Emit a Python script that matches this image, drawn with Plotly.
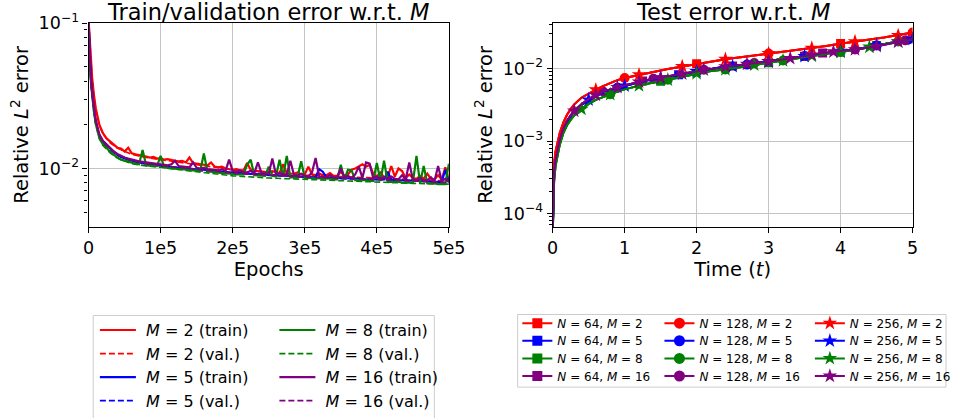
import plotly.graph_objects as go

W, H = 956, 418
FONT = "DejaVu Sans"

# ------------------------------------------------------------------ left panel data
EPOCHS = [0, 1000, 2000, 3500, 5000, 7500, 10000, 15000, 20000] + list(range(25000, 500001, 5000))

TRAIN_M2 = [0.105, 0.085, 0.068, 0.052, 0.042, 0.032, 0.0260, 0.0200, 0.0175,
            0.0161, 0.0153, 0.0146, 0.0139, 0.0137, 0.0131, 0.0139, 0.0127, 0.0125, 0.0123,
            0.0122, 0.0121, 0.0119, 0.0120, 0.0117, 0.0118, 0.0115, 0.0116, 0.0114, 0.0113,
            0.0112, 0.0113, 0.0110, 0.0119, 0.0109, 0.0108, 0.0107, 0.0106, 0.0105, 0.0110,
            0.0103, 0.0102, 0.0103, 0.0100, 0.0099, 0.0098, 0.0099, 0.0097, 0.0097, 0.0109,
            0.0098, 0.0096, 0.0096, 0.0095, 0.0095, 0.0094, 0.0096, 0.0094, 0.0093, 0.0107,
            0.0093, 0.0092, 0.0092, 0.0094, 0.0091, 0.0091, 0.0103, 0.0091, 0.0090, 0.0092,
            0.0090, 0.0090, 0.0093, 0.0089, 0.0089, 0.0095, 0.0089, 0.0091, 0.0098, 0.0100,
            0.0104, 0.0107, 0.0103, 0.0106, 0.0092, 0.0088, 0.0094, 0.0087, 0.0087, 0.0104,
            0.0088, 0.0100, 0.0096, 0.0086, 0.0091, 0.0086, 0.0085, 0.0089, 0.0085, 0.0092,
            0.0085, 0.0084, 0.0090, 0.0084, 0.0102, 0.0084]
TRAIN_M5 = [0.105, 0.070, 0.053, 0.040, 0.032, 0.0253, 0.0210, 0.0168, 0.0152,
            0.0144, 0.0136, 0.0129, 0.0124, 0.0120, 0.0117, 0.0115, 0.0113, 0.0111, 0.0110,
            0.0109, 0.0108, 0.0107, 0.0106, 0.0105, 0.0104, 0.0104, 0.0103, 0.0102, 0.0102,
            0.0101, 0.0101, 0.0100, 0.0100, 0.0099, 0.0099, 0.0098, 0.0098, 0.0097, 0.0097,
            0.0096, 0.0096, 0.0095, 0.0095, 0.0094, 0.0094, 0.0094, 0.0093, 0.0093, 0.0092,
            0.0092, 0.0092, 0.0091, 0.0091, 0.0091, 0.0090, 0.0090, 0.0090, 0.0089, 0.0089,
            0.0089, 0.0089, 0.0088, 0.0088, 0.0088, 0.0088, 0.0087, 0.0087, 0.0087, 0.0099,
            0.0095, 0.0087, 0.0086, 0.0086, 0.0086, 0.0086, 0.0086, 0.0085, 0.0085, 0.0085,
            0.0085, 0.0085, 0.0084, 0.0084, 0.0084, 0.0084, 0.0084, 0.0084, 0.0095, 0.0084,
            0.0083, 0.0083, 0.0083, 0.0083, 0.0083, 0.0082, 0.0082, 0.0082, 0.0082, 0.0082,
            0.0081, 0.0081, 0.0081, 0.0081, 0.0098, 0.0080]
TRAIN_M8 = [0.105, 0.068, 0.051, 0.038, 0.031, 0.0245, 0.0203, 0.0162, 0.0146,
            0.0139, 0.0130, 0.0124, 0.0119, 0.0115, 0.0113, 0.0111, 0.0109, 0.0108, 0.0107,
            0.0134, 0.0105, 0.0105, 0.0104, 0.0104, 0.0122, 0.0102, 0.0101, 0.0100, 0.0100,
            0.0099, 0.0099, 0.0098, 0.0098, 0.0097, 0.0097, 0.0096, 0.0127, 0.0095, 0.0095,
            0.0094, 0.0094, 0.0093, 0.0093, 0.0092, 0.0092, 0.0091, 0.0091, 0.0091, 0.0106,
            0.0115, 0.0090, 0.0090, 0.0089, 0.0089, 0.0103, 0.0089, 0.0088, 0.0115, 0.0088,
            0.0122, 0.0087, 0.0087, 0.0087, 0.0112, 0.0086, 0.0086, 0.0086, 0.0086, 0.0085,
            0.0085, 0.0085, 0.0085, 0.0084, 0.0084, 0.0106, 0.0084, 0.0098, 0.0097, 0.0083,
            0.0083, 0.0083, 0.0083, 0.0082, 0.0082, 0.0109, 0.0082, 0.0113, 0.0081, 0.0081,
            0.0081, 0.0081, 0.0080, 0.0080, 0.0080, 0.0080, 0.0122, 0.0079, 0.0104, 0.0079,
            0.0079, 0.0079, 0.0078, 0.0078, 0.0078, 0.0108]
TRAIN_M16 = [0.105, 0.072, 0.055, 0.041, 0.033, 0.026, 0.0215, 0.0172, 0.0155,
             0.0147, 0.0138, 0.0131, 0.0126, 0.0122, 0.0119, 0.0117, 0.0115, 0.0113, 0.0112,
             0.0111, 0.0110, 0.0109, 0.0108, 0.0107, 0.0106, 0.0106, 0.0105, 0.0107, 0.0113,
             0.0104, 0.0103, 0.0103, 0.0102, 0.0110, 0.0101, 0.0100, 0.0101, 0.0099, 0.0099,
             0.0098, 0.0097, 0.0099, 0.0096, 0.0115, 0.0096, 0.0095, 0.0097, 0.0094, 0.0094,
             0.0096, 0.0093, 0.0110, 0.0093, 0.0092, 0.0092, 0.0117, 0.0091, 0.0093, 0.0091,
             0.0090, 0.0113, 0.0090, 0.0089, 0.0092, 0.0089, 0.0088, 0.0094, 0.0118, 0.0088,
             0.0088, 0.0087, 0.0090, 0.0087, 0.0087, 0.0100, 0.0087, 0.0089, 0.0086, 0.0091,
             0.0103, 0.0086, 0.0110, 0.0108, 0.0086, 0.0088, 0.0085, 0.0087, 0.0085, 0.0088,
             0.0085, 0.0084, 0.0090, 0.0084, 0.0110, 0.0084, 0.0083, 0.0086, 0.0083, 0.0083,
             0.0087, 0.0082, 0.0104, 0.0082, 0.0085, 0.0081]

VAL_EPOCHS = [0, 1000, 2000, 3500, 5000, 7500, 10000, 15000, 20000, 30000, 40000, 60000,
              80000, 100000, 150000, 200000, 250000, 300000, 350000, 400000, 450000, 500000]
VAL_M2 = [0.105, 0.084, 0.067, 0.051, 0.041, 0.031, 0.0256, 0.0197, 0.0172, 0.0150, 0.0138,
          0.0125, 0.0119, 0.0115, 0.0106, 0.0098, 0.0094, 0.0090, 0.0088, 0.0086, 0.0084, 0.0082]
VAL_M5 = [0.105, 0.069, 0.052, 0.039, 0.031, 0.0249, 0.0207, 0.0166, 0.0150, 0.0134, 0.0123,
          0.0113, 0.0107, 0.0103, 0.0097, 0.0093, 0.0090, 0.0088, 0.0085, 0.0084, 0.0082, 0.0080]
VAL_M8 = [0.105, 0.067, 0.050, 0.037, 0.030, 0.0241, 0.0200, 0.0160, 0.0144, 0.0128, 0.0118,
          0.0108, 0.0104, 0.0102, 0.0095, 0.0089, 0.0086, 0.0084, 0.0082, 0.0080, 0.0079, 0.0078]
VAL_M16 = [0.105, 0.071, 0.054, 0.040, 0.032, 0.0256, 0.0212, 0.0169, 0.0152, 0.0137, 0.0124,
           0.0114, 0.0108, 0.0105, 0.0099, 0.0093, 0.0090, 0.0087, 0.0086, 0.0084, 0.0082, 0.0080]

# ------------------------------------------------------------------ right panel data
TIME = [0, 0.01, 0.02, 0.04, 0.07, 0.1, 0.15, 0.2, 0.25, 0.3, 0.4, 0.5, 0.6, 0.7, 0.8, 0.9,
        1.0, 1.1, 1.2, 1.25, 1.3, 1.4, 1.5, 1.6, 1.7, 1.75, 1.8, 1.9, 2.0, 2.1, 2.2, 2.3, 2.4,
        2.5, 2.6, 2.7, 2.8, 2.9, 3.0, 3.1, 3.2, 3.3, 3.4, 3.5, 3.6, 3.7, 3.75, 3.8, 3.9, 4.0,
        4.1, 4.2, 4.3, 4.4, 4.5, 4.6, 4.7, 4.8, 4.9, 5.0]
TEST_M2 = [6e-5, 3.2e-4, 4.8e-4, 7.2e-4, 1.0e-3, 1.3e-3, 1.8e-3, 2.3e-3, 2.75e-3,
           3.2e-3, 3.95e-3, 4.55e-3, 5.1e-3, 5.7e-3, 6.3e-3, 6.9e-3, 7.4e-3, 7.8e-3, 8.2e-3,
           8.4e-3, 8.6e-3, 9.0e-3, 9.4e-3, 9.8e-3, 1.02e-2, 1.04e-2, 1.07e-2, 1.11e-2, 1.16e-2,
           1.20e-2, 1.24e-2, 1.29e-2, 1.34e-2, 1.38e-2, 1.42e-2, 1.47e-2, 1.51e-2, 1.56e-2,
           1.61e-2, 1.66e-2, 1.71e-2, 1.76e-2, 1.81e-2, 1.86e-2, 1.91e-2, 1.97e-2, 2.00e-2,
           2.04e-2, 2.12e-2, 2.20e-2, 2.28e-2, 2.35e-2, 2.43e-2, 2.51e-2, 2.59e-2, 2.67e-2,
           2.76e-2, 2.86e-2, 2.98e-2, 3.12e-2]
TEST_M5 = [5e-5, 1.9e-4, 3.3e-4, 5.3e-4, 7.8e-4, 1.02e-3, 1.46e-3, 1.85e-3, 2.2e-3,
           2.55e-3, 3.15e-3, 3.7e-3, 4.2e-3, 4.65e-3, 5.05e-3, 5.4e-3, 5.75e-3, 6.1e-3, 6.45e-3,
           6.6e-3, 6.8e-3, 7.1e-3, 7.4e-3, 7.75e-3, 8.05e-3, 8.2e-3, 8.4e-3, 8.75e-3, 9.1e-3,
           9.5e-3, 9.85e-3, 1.02e-2, 1.05e-2, 1.07e-2, 1.10e-2, 1.13e-2, 1.17e-2, 1.21e-2,
           1.24e-2, 1.28e-2, 1.32e-2, 1.37e-2, 1.42e-2, 1.47e-2, 1.53e-2, 1.59e-2, 1.62e-2,
           1.65e-2, 1.69e-2, 1.73e-2, 1.78e-2, 1.83e-2, 1.90e-2, 1.98e-2, 2.08e-2, 2.16e-2,
           2.25e-2, 2.34e-2, 2.43e-2, 2.52e-2]
TEST_M8 = [4.5e-5, 1.5e-4, 2.7e-4, 4.5e-4, 6.8e-4, 9.0e-4, 1.3e-3, 1.65e-3, 1.95e-3,
           2.25e-3, 2.75e-3, 3.25e-3, 3.7e-3, 4.05e-3, 4.4e-3, 4.8e-3, 5.15e-3, 5.5e-3, 5.8e-3,
           5.95e-3, 6.1e-3, 6.4e-3, 6.65e-3, 7.0e-3, 7.35e-3, 7.55e-3, 7.75e-3, 8.15e-3, 8.55e-3,
           8.9e-3, 9.2e-3, 9.45e-3, 9.7e-3, 1.0e-2, 1.04e-2, 1.08e-2, 1.12e-2, 1.16e-2,
           1.20e-2, 1.24e-2, 1.29e-2, 1.34e-2, 1.39e-2, 1.44e-2, 1.49e-2, 1.54e-2, 1.57e-2,
           1.60e-2, 1.64e-2, 1.68e-2, 1.74e-2, 1.81e-2, 1.89e-2, 1.98e-2, 2.08e-2, 2.17e-2,
           2.26e-2, 2.35e-2, 2.43e-2, 2.50e-2]
TEST_M16 = [5e-5, 2.0e-4, 3.4e-4, 5.5e-4, 8.0e-4, 1.05e-3, 1.5e-3, 1.9e-3, 2.25e-3,
            2.6e-3, 3.2e-3, 3.8e-3, 4.3e-3, 4.8e-3, 5.15e-3, 5.5e-3, 5.85e-3, 6.2e-3, 6.55e-3,
            6.7e-3, 6.9e-3, 7.2e-3, 7.5e-3, 7.8e-3, 8.1e-3, 8.25e-3, 8.45e-3, 8.8e-3, 9.2e-3,
            9.6e-3, 9.95e-3, 1.03e-2, 1.06e-2, 1.08e-2, 1.11e-2, 1.15e-2, 1.19e-2, 1.22e-2,
            1.25e-2, 1.29e-2, 1.33e-2, 1.38e-2, 1.43e-2, 1.48e-2, 1.54e-2, 1.60e-2, 1.63e-2,
            1.66e-2, 1.70e-2, 1.74e-2, 1.78e-2, 1.82e-2, 1.88e-2, 1.95e-2, 2.03e-2, 2.12e-2,
            2.22e-2, 2.33e-2, 2.44e-2, 2.54e-2]

# marker positions (times) for each (N, M) run
MARK_N64_M2 = [2.0, 4.0]
MARK_N64_M5 = [1.75, 3.5]
MARK_N64_M8 = [1.5, 3.0, 4.5]
MARK_N64_M16 = [1.25, 2.5, 3.75, 5.0]
MARK_N128_M2 = [1.0, 3.0, 5.0]
MARK_N128_M5 = [0.9, 2.7, 4.5]
MARK_N128_M8 = [0.8, 1.6, 2.4, 3.2, 4.0, 4.8]
MARK_N128_M16 = [0.7, 1.4, 2.1, 2.8, 3.5, 4.2, 4.9]
MARK_N256_M2 = [0.6, 1.2, 1.8, 2.4, 3.0, 3.6, 4.2, 4.8]
MARK_N256_M5 = [0.5, 1.0, 1.5, 2.0, 2.5, 3.0, 3.5, 4.0, 4.5, 5.0]
MARK_N256_M8 = [0.4, 0.8, 1.2, 1.6, 2.0, 2.4, 2.8, 3.2, 3.6, 4.0, 4.4, 4.8]
MARK_N256_M16 = [0.3, 0.6, 0.9, 1.2, 1.5, 1.8, 2.1, 2.4, 2.7, 3.0, 3.3, 3.6, 3.9, 4.2, 4.5, 4.8]

M_VALUES = [2, 5, 8, 16]
N_VALUES = [64, 128, 256]
COLORS = ["red", "blue", "green", "purple"]
SYMBOLS = ["square", "circle", "star"]
SIZES = [9, 10, 11]
LEG_SIZES = [10, 11, 11]

# ------------------------------------------------------------------ geometry (px)
def px_x(p):
    return p / W

def px_y(p):
    return 1 - p / H

L_DOM = [px_x(89.3), px_x(452.7)]
R_DOM = [px_x(557.3), px_x(920.3)]
Y_DOM = [px_y(227.7), px_y(23.3)]

# legend slot positions (px): left legend 2 cols x 4 rows, right legend 3 cols x 4 rows
L_COL_X = [95.7, 276.7]
L_ROW_Y = [331.7, 355.4, 379.0, 402.7]
R_COL_X = [521.7, 665.0, 816.7]
R_ROW_Y = [324.7, 342.4, 360.1, 377.8]

fig = go.Figure()
legends = {}

def legend_box(xp, yp, size, itemwidth):
    return dict(x=px_x(xp), y=px_y(yp), xanchor="left", yanchor="middle", orientation="v",
                bgcolor="rgba(0,0,0,0)", borderwidth=0, itemwidth=itemwidth,
                font=dict(family=FONT, size=size, color="black"), tracegroupgap=0)

NB = "\u00a0"
train = [TRAIN_M2, TRAIN_M5, TRAIN_M8, TRAIN_M16]
val = [VAL_M2, VAL_M5, VAL_M8, VAL_M16]
k = 0
for i, m in enumerate(M_VALUES):
    col = i // 2
    for r, (ys, xs, label, dash, lw) in enumerate([
            (train[i], EPOCHS, "train", "solid", 2.2),
            (val[i], VAL_EPOCHS, "val.", "6px,3px", 1.6)]):
        row = (i % 2) * 2 + r
        k += 1
        name = "legend" if k == 1 else f"legend{k}"
        legends[name] = legend_box(L_COL_X[col], L_ROW_Y[row], 16, 36)
        fig.add_trace(go.Scatter(x=xs, y=ys, mode="lines",
                                 line=dict(color=COLORS[i], width=lw, dash=dash),
                                 name=f"{NB}<i>M</i> = {m} ({label})", legend=name,
                                 xaxis="x", yaxis="y"))

tests = [TEST_M2, TEST_M5, TEST_M8, TEST_M16]
marks = [[MARK_N64_M2, MARK_N64_M5, MARK_N64_M8, MARK_N64_M16],
         [MARK_N128_M2, MARK_N128_M5, MARK_N128_M8, MARK_N128_M16],
         [MARK_N256_M2, MARK_N256_M5, MARK_N256_M8, MARK_N256_M16]]
time_key = [round(t, 2) for t in TIME]
for j, n in enumerate(N_VALUES):
    for i, m in enumerate(M_VALUES):
        vals = tests[i]
        fig.add_trace(go.Scatter(x=TIME, y=vals, mode="lines",
                                 line=dict(color=COLORS[i], width=2),
                                 showlegend=False, xaxis="x2", yaxis="y2"))
        mt = marks[j][i]
        mv = [vals[time_key.index(round(t, 2))] for t in mt]
        fig.add_trace(go.Scatter(x=mt, y=mv, mode="markers",
                                 marker=dict(color=COLORS[i], symbol=SYMBOLS[j], size=SIZES[j],
                                             line=dict(width=0)),
                                 showlegend=False, xaxis="x2", yaxis="y2"))
for j, n in enumerate(N_VALUES):
    for i, m in enumerate(M_VALUES):
        k += 1
        name = f"legend{k}"
        legends[name] = legend_box(R_COL_X[j], R_ROW_Y[i], 12, 30)
        fig.add_trace(go.Scatter(x=[None], y=[None], mode="lines+markers",
                                 line=dict(color=COLORS[i], width=2),
                                 marker=dict(color=COLORS[i], symbol=SYMBOLS[j], size=LEG_SIZES[j]),
                                 name=f"<i>N</i> = {n}, <i>M</i> = {m}",
                                 legend=name, xaxis="x2", yaxis="y2"))

axis_common = dict(showline=True, mirror=True, linecolor="black", linewidth=1.2,
                   ticks="outside", ticklen=5, tickwidth=1.2, tickcolor="black",
                   showgrid=True, gridcolor="#c4c4c4", gridwidth=1, zeroline=False,
                   tickfont=dict(family=FONT, size=17.5, color="black"), automargin=False)

def sup(e):
    return f"10<sup>\u2212{e}</sup>"

L_MINOR = [0.005, 0.006, 0.007, 0.008, 0.009, 0.02, 0.03, 0.04, 0.05, 0.06, 0.07, 0.08, 0.09]
R_MINOR = [7e-5, 8e-5, 9e-5, 2e-4, 3e-4, 4e-4, 5e-4, 6e-4, 7e-4, 8e-4, 9e-4,
           2e-3, 3e-3, 4e-3, 5e-3, 6e-3, 7e-3, 8e-3, 9e-3, 2e-2, 3e-2, 4e-2]
minor = dict(ticks="outside", ticklen=3, tickwidth=1, tickcolor="black", showgrid=False)

title_font = dict(family=FONT, size=19.5, color="black")

fig.update_layout(
    width=W, height=H, margin=dict(l=0, r=0, t=0, b=0),
    paper_bgcolor="white", plot_bgcolor="white",
    font=dict(family=FONT, color="black"),
    xaxis=dict(domain=L_DOM, anchor="y", range=[0, 500000],
               tickmode="array", tickvals=[0, 100000, 200000, 300000, 400000, 500000],
               ticktext=["0", "1e5", "2e5", "3e5", "4e5", "5e5"],
               title=dict(text="Epochs", font=title_font, standoff=2), **axis_common),
    yaxis=dict(domain=Y_DOM, anchor="x", type="log", range=[-2.4, -1],
               tickmode="array", tickvals=[0.01, 0.1], ticktext=[sup(2), sup(1)],
               minor=dict(tickvals=L_MINOR, **minor),
               title=dict(text="Relative <i>L</i><sup>2</sup> error", font=title_font, standoff=4),
               **axis_common),
    xaxis2=dict(domain=R_DOM, anchor="y2", range=[0, 5],
                tickmode="array", tickvals=[0, 1, 2, 3, 4, 5],
                title=dict(text="Time (<i>t</i>)", font=title_font, standoff=2), **axis_common),
    yaxis2=dict(domain=Y_DOM, anchor="x2", type="log", range=[-4.18, -1.376],
                tickmode="array", tickvals=[1e-4, 1e-3, 1e-2], ticktext=[sup(4), sup(3), sup(2)],
                minor=dict(tickvals=R_MINOR, **minor),
                title=dict(text="Relative <i>L</i><sup>2</sup> error", font=title_font, standoff=4),
                **axis_common),
    annotations=[
        dict(text="Train/validation error w.r.t. <i>M</i>", x=(L_DOM[0] + L_DOM[1]) / 2,
             y=px_y(12), xref="paper", yref="paper", xanchor="center", yanchor="middle",
             showarrow=False, font=dict(family=FONT, size=22.5, color="black")),
        dict(text="Test error w.r.t. <i>M</i>", x=(R_DOM[0] + R_DOM[1]) / 2,
             y=px_y(12), xref="paper", yref="paper", xanchor="center", yanchor="middle",
             showarrow=False, font=dict(family=FONT, size=22.5, color="black")),
    ],
    shapes=[
        dict(type="rect", xref="paper", yref="paper", x0=px_x(94), x1=px_x(438),
             y0=px_y(421), y1=px_y(317), line=dict(color="#cccccc", width=1)),
        dict(type="rect", xref="paper", yref="paper", x0=px_x(522), x1=px_x(954),
             y0=px_y(389), y1=px_y(316), line=dict(color="#cccccc", width=1)),
    ],
)
fig.update_layout(**legends)

fig.write_html("out.html")
